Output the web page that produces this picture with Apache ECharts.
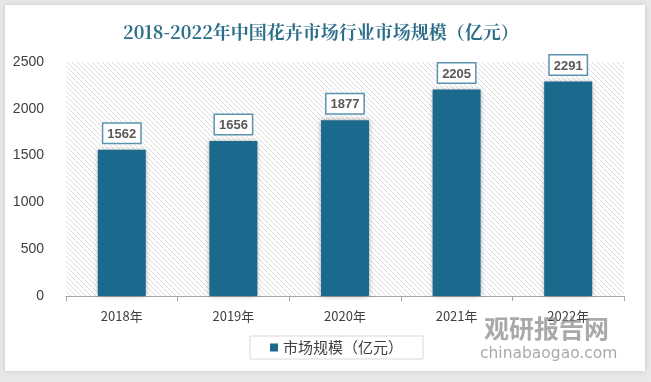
<!DOCTYPE html>
<html><head><meta charset="utf-8">
<script src="https://cdn.jsdelivr.net/npm/echarts@6/dist/echarts.min.js"></script>
<style>html,body{margin:0;padding:0;background:#e9e9e9}#c{width:651px;height:382px}</style>
</head><body><div id="c"></div>
<script>
const categories = ['2018年','2019年','2020年','2021年','2022年'];
const values = [1562, 1656, 1877, 2205, 2291];
const seriesName = '市场规模（亿元）';
const titleText = '2018-2022年中国花卉市场行业市场规模（亿元）';

const pc = document.createElement('canvas');
pc.width = 5; pc.height = 5;
const g = pc.getContext('2d');
g.fillStyle = '#ffffff'; g.fillRect(0,0,5,5);
g.strokeStyle = '#dcdcdc'; g.lineWidth = 1;
g.beginPath(); g.moveTo(-1,-1); g.lineTo(6,6); g.moveTo(-6,-1); g.lineTo(1,6); g.moveTo(4,-1); g.lineTo(11,6); g.stroke();

const chart = echarts.init(document.getElementById('c'));
chart.setOption({
  backgroundColor: '#e9e9e9',
  animation: false,
  graphic: [
    {type:'rect', left:5, top:5, shape:{width:640, height:366}, style:{fill:'#ffffff', shadowBlur:6, shadowColor:'rgba(0,0,0,0.15)'}, z:-10},
    {type:'text', left:484, top:316, style:{text:'观研报告网', fill:'rgba(140,140,140,0.75)', font:'bold 25px "Noto Sans CJK SC"'}, z:100},
    {type:'text', left:480, top:346, style:{text:'chinabaogao.com', fill:'rgba(140,140,140,0.75)', font:'15.5px "DejaVu Sans"'}, z:100}
  ],
  title: {text: titleText, left:118, top:18,
    textStyle:{fontSize:18, fontWeight:'bold', color:'#2c6e8a', fontFamily:'"Noto Serif CJK SC","Noto Sans CJK SC",serif'}},
  grid: {left:66, right:27, top:62, bottom:86, show:true, borderWidth:0,
    backgroundColor:{image: pc, repeat:'repeat'}},
  legend: {bottom:23, left:250, itemWidth:8, itemHeight:8, icon:'rect',
    borderColor:'#d9d9d9', borderWidth:1, padding:[4,20,4,20],
    textStyle:{fontSize:15, color:'#404040', fontFamily:'"Noto Sans CJK SC"'}},
  xAxis: {type:'category', data:categories,
    axisLine:{lineStyle:{color:'#a6a6a6'}},
    axisTick:{show:true, length:5, lineStyle:{color:'#a6a6a6'}},
    axisLabel:{fontSize:13, color:'#404040', margin:14, fontFamily:'"Noto Sans CJK SC"'}},
  yAxis: {type:'value', min:0, max:2500, interval:500,
    splitLine:{show:false}, axisLine:{show:false}, axisTick:{show:false},
    axisLabel:{fontSize:14, color:'#404040', margin:22, formatter: v => String(v), fontFamily:'"Liberation Sans",sans-serif'}},
  series: [{
    name: seriesName, type:'bar', data: values, barWidth:48,
    itemStyle:{color:'#1b6a8e', shadowBlur:5, shadowColor:'rgba(0,0,0,0.35)'},
    label:{show:true, position:'top', distance:7, fontSize:13, fontWeight:'bold', color:'#595959',
      backgroundColor:'#ffffff', borderColor:'#5a93ae', borderWidth:1.5, padding:[4,4,2,4],
      fontFamily:'"Liberation Sans",sans-serif'}
  }]
});
</script></body></html>
